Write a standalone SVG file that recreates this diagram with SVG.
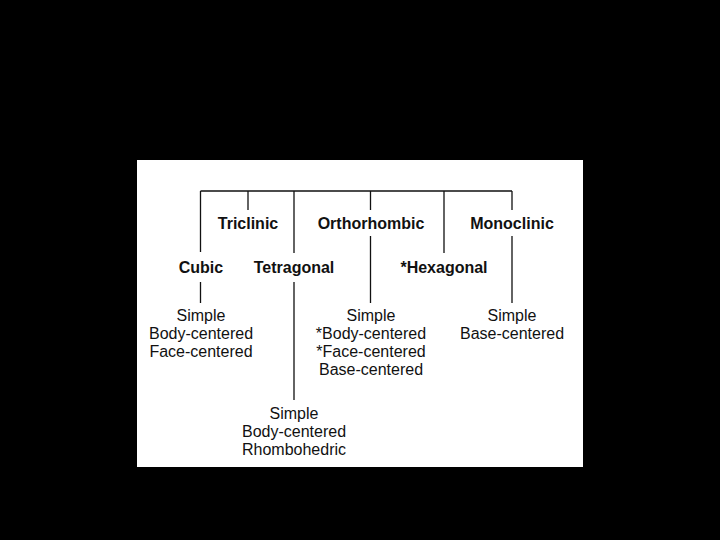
<svg xmlns="http://www.w3.org/2000/svg" width="720" height="540" viewBox="0 0 720 540">
<style>
.ln{stroke:#111;stroke-width:1.3;fill:none}
.h{font-family:"Liberation Sans",Arial,sans-serif;font-size:16px;font-weight:bold;fill:#111;text-anchor:middle}
.t{font-family:"Liberation Sans",Arial,sans-serif;font-size:16px;fill:#111;text-anchor:middle}
</style>
<rect x="0" y="0" width="720" height="540" fill="#000"/>
<rect x="137" y="160" width="446" height="307" fill="#fff"/>
<g id="connectors">
<path class="ln" d="M200.5 191H512 M200.5 191V252 M248 191V210 M294 191V253 M370.5 191V210 M444 191V253 M512 191V210 M200.5 282V303 M294 282V400 M370.5 236V303 M512 236V303"/>
</g>
<g id="triclinic"><text class="h" x="248" y="229">Triclinic</text></g>
<g id="orthorhombic"><text class="h" x="371" y="229">Orthorhombic</text></g>
<g id="monoclinic"><text class="h" x="512" y="229">Monoclinic</text></g>
<g id="cubic"><text class="h" x="201" y="273">Cubic</text></g>
<g id="tetragonal"><text class="h" x="294" y="273">Tetragonal</text></g>
<g id="hexagonal"><text class="h" x="444" y="273">*Hexagonal</text></g>
<g id="cubic-types">
<text class="t" x="201" y="321">Simple</text>
<text class="t" x="201" y="339">Body-centered</text>
<text class="t" x="201" y="357">Face-centered</text>
</g>
<g id="ortho-types">
<text class="t" x="371" y="321">Simple</text>
<text class="t" x="371" y="339">*Body-centered</text>
<text class="t" x="371" y="357">*Face-centered</text>
<text class="t" x="371" y="375">Base-centered</text>
</g>
<g id="mono-types">
<text class="t" x="512" y="321">Simple</text>
<text class="t" x="512" y="339">Base-centered</text>
</g>
<g id="tetra-types">
<text class="t" x="294" y="419">Simple</text>
<text class="t" x="294" y="437">Body-centered</text>
<text class="t" x="294" y="455">Rhombohedric</text>
</g>
</svg>
